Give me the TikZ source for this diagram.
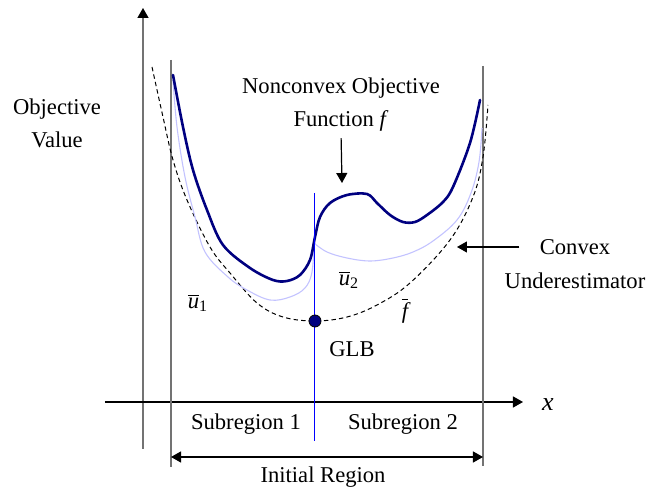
\documentclass[tikz,border=0pt]{standalone}
\usepackage{fontspec}
\setmainfont{Liberation Serif}
\usetikzlibrary{arrows.meta,positioning}
\definecolor{navyline}{RGB}{0,0,128}
\definecolor{paleline}{RGB}{195,195,255}
\definecolor{axisgray}{RGB}{115,115,115}
\newcommand{\barvar}[2]{$\overline{\mbox{\itshape #1}}_{\mbox{\fontsize{8}{9}\selectfont #2}}$}

\begin{document}
\begin{tikzpicture}[x=0.5pt,y=-0.5pt]
\tikzset{lbl/.style={font=\fontsize{11.3}{16.5}\selectfont,inner sep=0pt,align=center},
  fcurve/.style={draw=navyline,line width=1.3pt,line join=round,line cap=round},
  ucurve/.style={draw=paleline,line width=0.55pt},
  bound/.style={draw=axisgray,line width=0.75pt},
  tip/.style={-{Triangle[length=5pt,width=5.5pt,color=black]}}}
\useasboundingbox (0,0) rectangle (650,496);

% axes and region bounds
\coordinate (yaxbot) at (143,449);
\coordinate (yaxtop) at (143,8);
\coordinate (xaxl) at (105,402);
\coordinate (xaxr) at (523,402);
\draw[bound,tip] (yaxbot) -- (yaxtop);
\draw[line width=0.6pt,tip] (xaxl) -- (xaxr);
\node[lbl,font=\fontsize{13}{15}\selectfont\itshape] (xlab) at (548,405) {x};
\draw[bound] (171,60) -- (171,467);
\draw[bound] (483,66) -- (483,466);

% convex underestimator
\draw[black,line width=0.5pt,dash pattern=on 2.2pt off 1.6pt] plot[smooth,tension=0.6] coordinates {
  (152,67) (163,117) (173,160) (187,200) (210,247) (230,273) (257,303) (283,317) (315,321)
  (347,317) (377,305) (410,283) (450,240) (473,197) (483,157) (488,105)};

% subregion underestimators
\draw[ucurve] plot[smooth,tension=0.6] coordinates {
  (173,80) (177,127) (185,177) (195,217) (205,252) (228,277) (247,290) (270,300) (290,297)
  (305,288) (312,272) (314,243)};
\draw[ucurve] plot[smooth,tension=0.6] coordinates {
  (314,243) (327,252) (347,258) (370,261) (393,258) (413,252) (433,241) (457,220) (471,193)
  (479,162) (482,128)};

% nonconvex objective
\draw[fcurve] plot[smooth,tension=0.55] coordinates {
  (173,75) (183,127) (193,170) (207,210) (223,245) (250,268) (273,280) (287,281) (300,275)
  (310,260) (315,237) (320,217) (330,203) (347,195) (367,194) (377,203) (390,215) (403,222)
  (415,222) (427,215) (443,202) (453,187) (470,143) (480,100)};

% split line and GLB point
\draw[blue,line width=0.5pt] (315,193) -- (315,441);
\node[circle,fill=navyline,draw=black,line width=0.4pt,inner sep=0pt,minimum size=6pt] (glb) at (315,321) {};
\node[lbl] (glblab) at (352,349) {GLB};

\node[lbl] (ubar1) at (198,303) {\barvar{u}{1}};
\node[lbl] (ubar2) at (349,280) {\barvar{u}{2}};
\node[lbl] (fbar) at (405,311) {$\overline{\mbox{\itshape f}}$};

% labels with arrows
\node[lbl] (objval) at (57,123) {Objective\\Value};
\node[lbl] (nonconvex) at (341,105) {Nonconvex Objective\\Function \textit{f}};
\coordinate (fpeak) at (342,183);
\draw[line width=0.6pt,tip,shorten <=3pt] (nonconvex.south) -- (fpeak);

\node[lbl] (convex) at (575,247) {Convex};
\node[lbl,below=8.5pt of convex] (underest) {Underestimator};
\coordinate (convtip) at (457,244);
\draw[line width=0.6pt,tip,shorten <=10pt] (convex.west) -- (convex.west -| convtip);

% regions
\node[lbl] (sub1) at (246,424) {Subregion 1};
\node[lbl] (sub2) at (403,424) {Subregion 2};
\coordinate (irl) at (171,457);
\coordinate (irr) at (483,457);
\draw[line width=0.6pt,{Triangle[length=5pt,width=5.5pt]}-{Triangle[length=5pt,width=5.5pt]}] (irl) -- (irr);
\node[lbl] (initial) at (323,477) {Initial Region};
\end{tikzpicture}
\end{document}
